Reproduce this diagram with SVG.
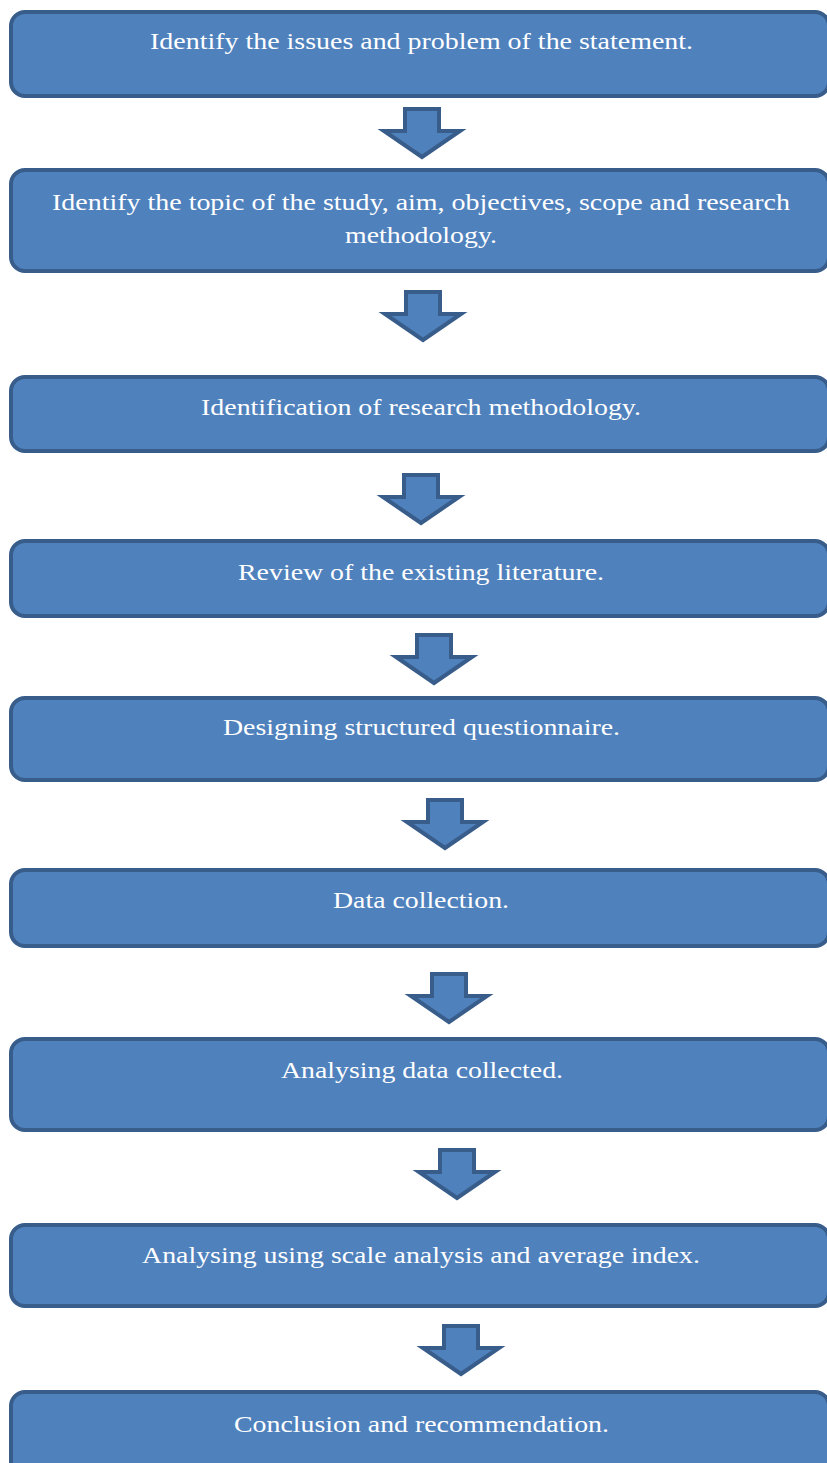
<svg xmlns="http://www.w3.org/2000/svg" xmlns:xlink="http://www.w3.org/1999/xlink" width="827" height="1463" viewBox="0 0 827 1463">
<style>
.box{fill:#4F81BD;stroke:#385D8A;stroke-width:4}
.arrow{fill:#4F81BD;stroke:#385D8A;stroke-width:4;stroke-linejoin:miter}
.lbl{font-family:"Liberation Serif","Times New Roman",serif;font-size:24px;fill:#FFFFFF;text-anchor:middle}
</style>
<defs>
<path id="arr" d="M-17,2 L17,2 L17,24 L38,24 L0,50 L-38,24 L-17,24 Z"/>
</defs>
<rect width="827" height="1463" fill="#FFFFFF"/>
<g id="connectors" class="arrow">
<use xlink:href="#arr" transform="translate(422,107)"/>
<use xlink:href="#arr" transform="translate(423,290)"/>
<use xlink:href="#arr" transform="translate(421,473)"/>
<use xlink:href="#arr" transform="translate(434,633)"/>
<use xlink:href="#arr" transform="translate(445,798)"/>
<use xlink:href="#arr" transform="translate(449,972)"/>
<use xlink:href="#arr" transform="translate(457,1148)"/>
<use xlink:href="#arr" transform="translate(461,1324)"/>
</g>
<g id="n1"><rect class="box" x="11" y="12" width="818" height="84" rx="14"/><text class="lbl" x="421.5" y="49" textLength="543" lengthAdjust="spacingAndGlyphs">Identify the issues and problem of the statement.</text></g>
<g id="n2"><rect class="box" x="11" y="170" width="818" height="101" rx="14"/><text class="lbl" x="421" y="210" textLength="738" lengthAdjust="spacingAndGlyphs">Identify the topic of the study, aim, objectives, scope and research</text><text class="lbl" x="421" y="243" textLength="152" lengthAdjust="spacingAndGlyphs">methodology.</text></g>
<g id="n3"><rect class="box" x="11" y="377" width="818" height="74" rx="14"/><text class="lbl" x="421" y="415" textLength="440" lengthAdjust="spacingAndGlyphs">Identification of research methodology.</text></g>
<g id="n4"><rect class="box" x="11" y="541" width="818" height="75" rx="14"/><text class="lbl" x="421" y="580" textLength="366" lengthAdjust="spacingAndGlyphs">Review of the existing literature.</text></g>
<g id="n5"><rect class="box" x="11" y="698" width="818" height="82" rx="14"/><text class="lbl" x="421.5" y="735" textLength="397" lengthAdjust="spacingAndGlyphs">Designing structured questionnaire.</text></g>
<g id="n6"><rect class="box" x="11" y="870" width="818" height="76" rx="14"/><text class="lbl" x="421" y="908" textLength="176" lengthAdjust="spacingAndGlyphs">Data collection.</text></g>
<g id="n7"><rect class="box" x="11" y="1039" width="818" height="91" rx="14"/><text class="lbl" x="422" y="1078" textLength="282" lengthAdjust="spacingAndGlyphs">Analysing data collected.</text></g>
<g id="n8"><rect class="box" x="11" y="1225" width="818" height="81" rx="14"/><text class="lbl" x="421" y="1263" textLength="558" lengthAdjust="spacingAndGlyphs">Analysing using scale analysis and average index.</text></g>
<g id="n9"><rect class="box" x="11" y="1392" width="818" height="90" rx="14"/><text class="lbl" x="421.5" y="1432" textLength="375" lengthAdjust="spacingAndGlyphs">Conclusion and recommendation.</text></g>
</svg>
